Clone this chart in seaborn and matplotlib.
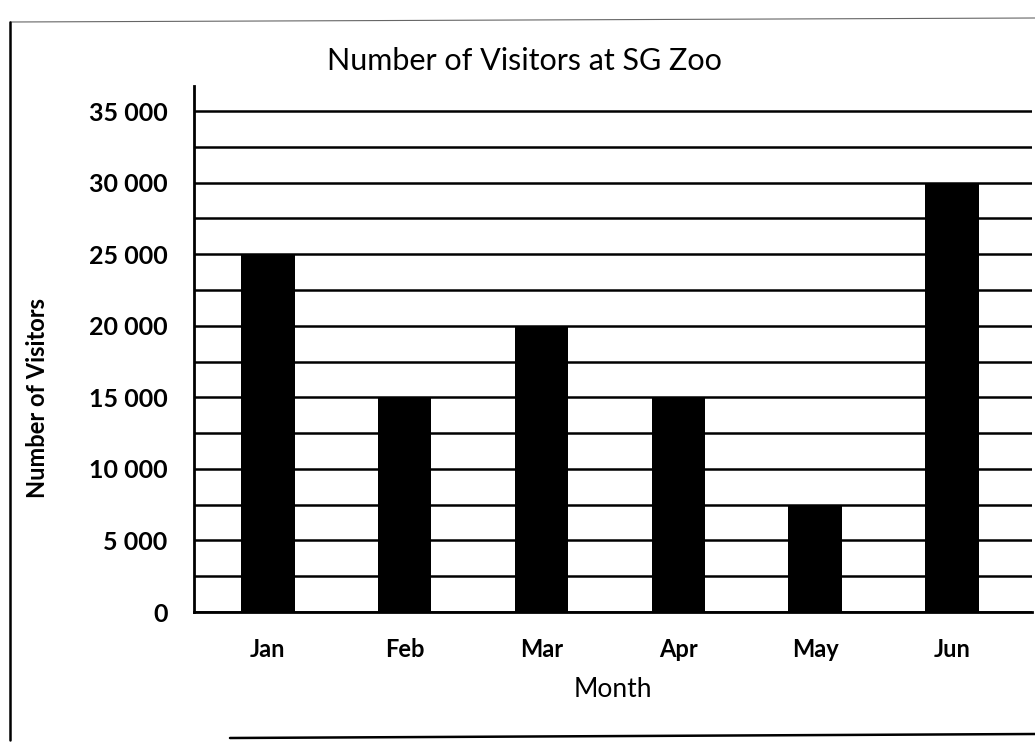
import matplotlib
matplotlib.use("Agg")
import matplotlib.pyplot as plt
import seaborn as sns
import pandas as pd
from matplotlib.ticker import FuncFormatter, MultipleLocator
from matplotlib.lines import Line2D

months = ["Jan", "Feb", "Mar", "Apr", "May", "Jun"]
visitors = [25000, 15000, 20000, 15000, 7500, 30000]
ytick_values = [0, 5000, 10000, 15000, 20000, 25000, 30000, 35000]

sns.set_theme(style="white")
plt.rcParams["font.family"] = ["Lato", "DejaVu Sans"]

df = pd.DataFrame({"Month": months, "Visitors": visitors})

W, H = 1035, 743
fig = plt.figure(figsize=(W / 100, H / 100), dpi=100)
ax_left, ax_right, ax_top, ax_bottom = 194, 1032, 86, 612
ax = fig.add_axes([ax_left / W, 1 - ax_bottom / H, (ax_right - ax_left) / W, (ax_bottom - ax_top) / H])

sns.barplot(data=df, x="Month", y="Visitors", color="black", width=0.39,
            saturation=1, ax=ax, zorder=3, edgecolor="black", linewidth=0)

ax.set_xlim(-0.54, 5.585)
ax.set_ylim(0, 36750)
ax.yaxis.set_minor_locator(MultipleLocator(2500))
ax.set_yticks(ytick_values)
ax.yaxis.set_major_formatter(FuncFormatter(lambda v, p: f"{int(v):,}".replace(",", " ")))
ax.grid(True, which="both", axis="y", color="black", linewidth=1.8, zorder=0)
ax.set_axisbelow(True)

for side in ["top", "right"]:
    ax.spines[side].set_visible(False)
for side in ["left", "bottom"]:
    ax.spines[side].set_visible(True)
    ax.spines[side].set_color("black")
    ax.spines[side].set_linewidth(2.0)

ax.tick_params(axis="both", which="both", length=0)
ax.tick_params(axis="y", labelsize=18, pad=19)
ax.tick_params(axis="x", labelsize=17, pad=19)
for lbl in ax.get_yticklabels() + ax.get_xticklabels():
    lbl.set_fontweight("bold")
    lbl.set_color("black")

ax.set_xlabel("Month", fontsize=19, color="black")
ax.xaxis.set_label_coords(0.5, -(702 - ax_bottom) / (ax_bottom - ax_top), transform=ax.transAxes)
ax.xaxis.label.set_va("bottom")
ax.set_ylabel("Number of Visitors", fontsize=17, fontweight="bold", color="black")
ax.yaxis.set_label_coords(-(ax_left - 49) / (ax_right - ax_left), (ax_bottom - 398) / (ax_bottom - ax_top))

fig.text(524 / W, 1 - 61 / H, "Number of Visitors at SG Zoo", fontsize=22,
         ha="center", va="center", color="black")

# frame of the chart area
fig.add_artist(Line2D([10 / W, 10 / W], [1 - 22 / H, 1 - 740 / H], transform=fig.transFigure,
                      color="black", linewidth=1.8))
fig.add_artist(Line2D([10 / W, 1.0], [1 - 22 / H, 1 - 18 / H], transform=fig.transFigure,
                      color="black", linewidth=0.8, alpha=0.6))
fig.add_artist(Line2D([230 / W, 1.0], [1 - 738 / H, 1 - 734 / H], transform=fig.transFigure,
                      color="black", linewidth=1.8))

fig.savefig("out.png", dpi=100, facecolor="white")
